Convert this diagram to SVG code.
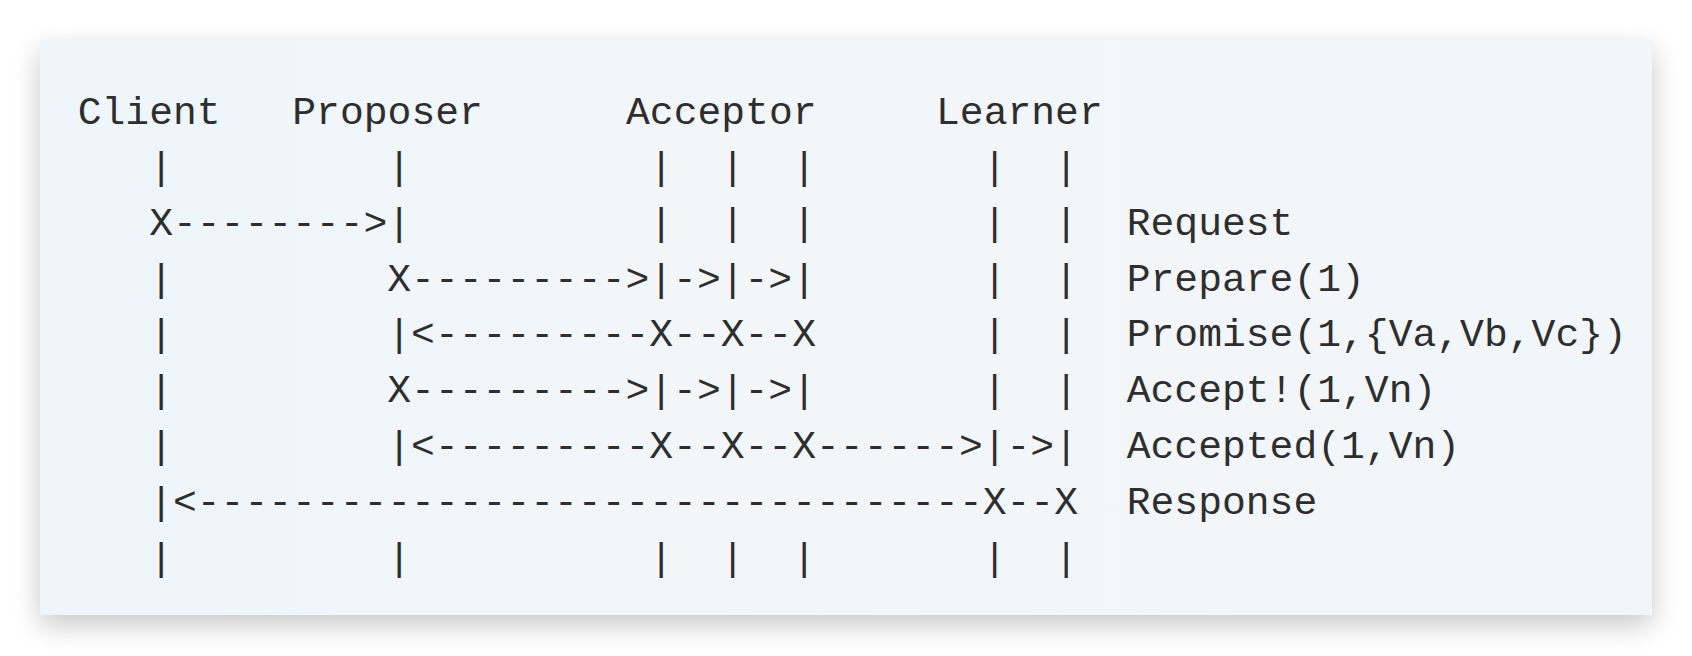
<svg xmlns="http://www.w3.org/2000/svg" width="1692" height="656" viewBox="0 0 1692 656">
<style>
  .t { font-family: "Liberation Mono", "DejaVu Sans Mono", monospace; font-size: 39.7px; fill: #2e2e2e; white-space: pre; }
</style>
<defs>
  <filter id="sh" x="-10%" y="-20%" width="120%" height="145%">
    <feGaussianBlur in="SourceAlpha" stdDeviation="14"/>
    <feOffset dx="0" dy="10" result="b"/>
    <feComponentTransfer><feFuncA type="linear" slope="0.22"/></feComponentTransfer>
    <feMerge><feMergeNode/><feMergeNode in="SourceGraphic"/></feMerge>
  </filter>
  <linearGradient id="bg" x1="0" y1="0" x2="1" y2="0">
    <stop offset="0" stop-color="#eef6fb"/>
    <stop offset="0.5" stop-color="#f3f6f9"/>
    <stop offset="1" stop-color="#f1f6fa"/>
  </linearGradient>
</defs>
<rect x="0" y="0" width="1692" height="656" fill="#ffffff"/>
<rect x="40" y="40" width="1612" height="575" fill="url(#bg)" filter="url(#sh)"/>

<g id="client"><text class="t" x="77.7" y="124">Client</text></g>
<g id="proposer"><text class="t" x="292.3" y="124">Proposer</text></g>
<g id="acceptor"><text class="t" x="626" y="124">Acceptor</text></g>
<g id="learner"><text class="t" x="936" y="124">Learner</text></g>

<g id="connectors">
  <text class="t" x="77.7" y="179" xml:space="preserve">   |         |          |  |  |       |  |</text>
  <text class="t" x="77.7" y="234.8" xml:space="preserve">   X--------&gt;|          |  |  |       |  |</text>
  <text class="t" x="77.7" y="290.6" xml:space="preserve">   |         X---------&gt;|-&gt;|-&gt;|       |  |</text>
  <text class="t" x="77.7" y="346.4" xml:space="preserve">   |         |&lt;---------X--X--X       |  |</text>
  <text class="t" x="77.7" y="402.2" xml:space="preserve">   |         X---------&gt;|-&gt;|-&gt;|       |  |</text>
  <text class="t" x="77.7" y="458" xml:space="preserve">   |         |&lt;---------X--X--X------&gt;|-&gt;|</text>
  <text class="t" x="77.7" y="513.8" xml:space="preserve">   |&lt;---------------------------------X--X</text>
  <text class="t" x="77.7" y="569.6" xml:space="preserve">   |         |          |  |  |       |  |</text>
</g>

<g id="labels">
  <text class="t" x="1126.7" y="234.8">Request</text>
  <text class="t" x="1126.7" y="290.6">Prepare(1)</text>
  <text class="t" x="1126.7" y="346.4">Promise(1,{Va,Vb,Vc})</text>
  <text class="t" x="1126.7" y="402.2">Accept!(1,Vn)</text>
  <text class="t" x="1126.7" y="458">Accepted(1,Vn)</text>
  <text class="t" x="1126.7" y="513.8">Response</text>
</g>
</svg>
